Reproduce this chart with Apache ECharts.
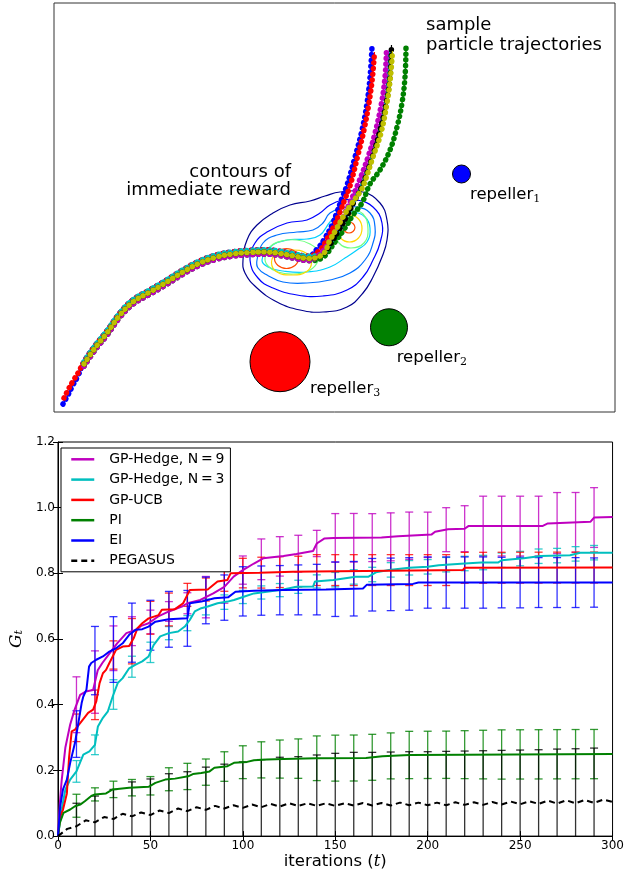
<!DOCTYPE html>
<html><head><meta charset="utf-8">
<script src="https://cdn.jsdelivr.net/npm/echarts@6/dist/echarts.min.js"></script>
<style>html,body{margin:0;padding:0;background:#fff}#c{width:627px;height:871px}</style>
</head><body><div id="c"></div>
<script>
// ================= TOP PANEL (field units, y grows downward) =================
const trunk = [[30,361],[41,345],[53,330],[66,312],[79,299],[96,289],[113,279],[129,269],[146,260],[163,254],[179,251],[196,249.5],[211,249],[226,250.5],[242,253.5],[254,255.5]];
const trunkUp = [[30,358.8],[41,342.8],[53,327.8],[66,309.8],[79,296.8],[96,286.8],[113,276.8],[129,266.8],[146,257.8],[163,251.8],[179,248.8],[196,247.3],[211,246.8],[226,248.3],[242,251.3],[254,253.3]];
const trunkDown = [[30,363.2],[41,347.2],[53,332.2],[66,314.2],[79,301.2],[96,291.2],[113,281.2],[129,271.2],[146,262.2],[163,256.2],[179,253.2],[196,251.7],[211,251.2],[226,252.7],[242,255.7],[254,257.7]];
const startBlue = [[9,401],[14,392],[19,382],[24,373]];
const startRed = [[10,395],[14,387],[19,378],[24,370]];
const tailBlue = [[264,245],[271,235],[278,222],[283,209],[288,195],[293,182],[301,154],[308,127],[313,100],[316,74],[318,44]];
const tailRed = [[266,247],[273,236],[280,223],[286,209],[291,196],[296,183],[304,152],[310,127],[315,100],[318.5,74],[320.5,49]];
const tailMagenta = [[267,250],[275,239],[283,226],[290,212],[297,197],[304,181],[314,154],[321,130],[327.5,100],[331,74],[332.5,47]];
const tailCyan = [[268,251],[276,240],[284,228],[292,213],[299,199],[307,183],[317,155],[324,131],[331,101],[334,74],[335,49]];
const tailBlack = [[268,252],[277,240],[285,227],[293,213],[300,199],[308,183],[318,155],[325,131],[332,101],[336,74],[337.5,42]];
const tailYellow = [[269,251],[276,237],[283,225],[289,214],[298,200],[306,189],[310,181],[319,154],[327,130],[333,100],[336.5,74],[338.5,48]];
const tailGreen = [[268,255],[281,239],[291,225],[299,212],[308,200],[316,181],[326,167],[336,147],[343,124],[348,100],[351,74],[352,44]];

const contourNavy = [[189,257],[193,237],[203,222],[219,210],[236,202],[256,198],[271,193],[286,189],[309,189],[326,200],[333,217],[333,237],[328,254],[319,274],[309,290],[293,304],[269,309],[246,307],[223,299],[203,285],[191,270]];
const contourBlue = [[196,257],[201,240],[213,229],[233,220],[253,217],[266,210],[276,202],[289,197],[303,197],[319,204],[328,220],[326,240],[319,257],[309,274],[293,287],[269,293],[243,292],[219,285],[204,275]];
const contourSky = [[203,257],[209,240],[223,232],[243,229],[259,227],[269,220],[276,210],[289,205],[303,204],[316,210],[321,224],[319,240],[311,257],[296,270],[276,277],[253,280],[229,279],[213,272],[204,265]];
const contourCyan = [[208,257],[216,244],[233,237],[253,236],[266,232],[276,219],[286,210],[299,209],[311,214],[316,225],[313,239],[303,247],[291,255],[276,264],[253,269],[229,268],[214,264]];
const contourGreenL = [[211,255],[216,244],[228,238],[243,237],[256,241],[264,249],[263,260],[254,268],[239,271],[224,269],[214,263]];
const contourGreenR = [[297,207],[309,211],[314,226],[310,240],[297,245],[285,240],[281,226],[285,212]];
const contourYellowL = [[217.5,259.5],[223,250],[237.5,247],[252,250],[257.5,259.5],[252,269],[237.5,272],[223,269]];
const contourYellowR = [[283,225.5],[286.5,216],[295.5,212],[304.5,216],[308,225.5],[304.5,235],[295.5,239],[286.5,235]];
const contourOrangeL = [[220.5,255.5],[224,248.5],[232.5,245.5],[241,248.5],[244.5,255.5],[241,262.5],[232.5,265.5],[224,262.5]];
const contourOrangeR = [[289,224.5],[291,220.5],[295,219],[299,220.5],[301,224.5],[299,228.5],[295,230],[291,228.5]];

const repellerNames = ['1','2','3'];
const repellerX = [407.5, 335, 226];
const repellerY = [171, 324.3, 358.7];
const repellerR = [9, 18.5, 30];

// ================= BOTTOM PANEL =================
const xTicks = [0,50,100,150,200,250,300];
const yTicks = [0,0.2,0.4,0.6,0.8,1.0,1.2];
const hedge9 = [[0,0],[1,0.1],[2,0.17],[4,0.27],[6.6,0.34],[9,0.385],[12,0.43],[15,0.44],[19,0.445],[21.5,0.505],[24,0.527],[28,0.557],[32,0.587],[37,0.618],[42,0.628],[45,0.64],[49,0.648],[54,0.668],[60,0.684],[67,0.699],[70,0.709],[77,0.719],[84,0.739],[90,0.759],[95,0.79],[100,0.81],[106,0.83],[111,0.846],[122,0.853],[129,0.859],[138,0.868],[140,0.891],[144,0.906],[149,0.908],[175,0.909],[184,0.913],[202,0.918],[204,0.927],[211,0.934],[220,0.936],[222,0.944],[262,0.944],[265,0.952],[288,0.957],[290,0.97],[300,0.972]];
const hedge3 = [[0,0],[2,0.081],[4,0.142],[6.6,0.172],[10,0.197],[13.7,0.248],[17,0.258],[20,0.278],[21.6,0.334],[24.3,0.36],[27,0.38],[29.6,0.425],[32.3,0.466],[35,0.481],[38.5,0.511],[42,0.522],[45.6,0.532],[49,0.547],[51.8,0.582],[55.3,0.608],[60,0.618],[65,0.623],[68.6,0.638],[71.3,0.658],[74,0.684],[77.5,0.694],[81,0.699],[86.3,0.709],[91.7,0.714],[95.2,0.719],[100.5,0.729],[106,0.739],[113,0.744],[120,0.749],[129,0.759],[138,0.76],[139,0.775],[149,0.78],[161,0.79],[168,0.79],[172,0.803],[179,0.81],[190,0.817],[200,0.82],[206,0.825],[220,0.83],[229,0.833],[238,0.833],[240,0.84],[252,0.846],[261,0.853],[277,0.855],[282.5,0.863],[300,0.863]];
const gpucb = [[0,0],[1.2,0.06],[2.7,0.08],[4.8,0.13],[6,0.24],[7.4,0.319],[9.2,0.324],[12,0.344],[16.3,0.375],[19,0.385],[20.7,0.41],[22.5,0.466],[24.3,0.496],[26,0.506],[27.8,0.527],[31.4,0.567],[35,0.577],[38.5,0.579],[41,0.603],[43,0.633],[45.6,0.648],[49,0.663],[54.4,0.673],[56.2,0.689],[63.3,0.691],[67.7,0.709],[71.3,0.749],[81,0.751],[86.3,0.775],[91.7,0.78],[93.4,0.8],[109,0.802],[127,0.805],[139,0.806],[140,0.81],[219,0.81],[220,0.817],[300,0.818]];
const pi = [[0,0],[1,0.04],[3,0.071],[6.6,0.081],[9.2,0.091],[12,0.096],[14.5,0.106],[18,0.122],[20,0.127],[26,0.13],[29.6,0.142],[38.5,0.147],[49,0.15],[52.7,0.162],[58,0.172],[63.3,0.175],[70.4,0.182],[73,0.189],[77.5,0.192],[82,0.197],[84.6,0.208],[91.7,0.213],[95.2,0.223],[102.3,0.226],[106,0.231],[113,0.233],[122,0.235],[139.5,0.237],[166.6,0.238],[175.5,0.243],[190,0.247],[220,0.248],[300,0.25]];
const ei = [[0,0],[1.2,0.091],[2.7,0.142],[4.8,0.172],[6.6,0.223],[9.2,0.284],[11,0.344],[12.8,0.405],[13.7,0.425],[15.4,0.446],[16.8,0.516],[18,0.527],[20.7,0.537],[24.3,0.547],[27.8,0.562],[31.4,0.572],[35,0.587],[38.5,0.613],[42,0.628],[45.6,0.63],[49,0.638],[52.7,0.653],[59.8,0.66],[70,0.663],[71.3,0.709],[77.5,0.714],[84.6,0.724],[92,0.727],[96,0.744],[106,0.747],[122,0.749],[145,0.751],[165,0.754],[167,0.765],[192,0.768],[195,0.772],[300,0.772]];
const pegasus = [[0,0],[5,0.022],[10,0.03],[15,0.048],[20,0.042],[25,0.058],[30,0.052],[35,0.068],[40,0.06],[45,0.072],[50,0.064],[55,0.078],[60,0.07],[65,0.084],[70,0.076],[75,0.088],[80,0.08],[85,0.092],[90,0.084],[95,0.094],[100,0.086],[105,0.096],[110,0.088],[115,0.098],[120,0.09],[125,0.1],[130,0.092],[135,0.1],[140,0.092],[145,0.1],[150,0.092],[155,0.1],[160,0.093],[165,0.101],[170,0.093],[175,0.101],[180,0.093],[185,0.102],[190,0.094],[195,0.102],[200,0.094],[205,0.102],[210,0.094],[215,0.103],[220,0.095],[225,0.103],[230,0.095],[235,0.104],[240,0.096],[245,0.105],[250,0.097],[255,0.106],[260,0.098],[265,0.108],[270,0.099],[275,0.109],[280,0.1],[285,0.11],[290,0.101],[295,0.111],[300,0.104]];
const errX = [10,20,30,40,50,60,70,80,90,100,110,120,130,140,150,160,170,180,190,200,210,220,230,240,250,260,270,280,290];
const hedge9Err = [.085,.095,.068,.044,.036,.03,.032,.063,.05,.043,.062,.06,.056,.04,.074,.074,.073,.073,.072,.069,.067,.07,.091,.091,.091,.091,.093,.091,.091];
const hedge3Err = [.033,.03,.045,.032,.031,.02,.023,.024,.022,.02,.02,.02,.02,.02,.022,.022,.022,.022,.022,.022,.022,.022,.022,.022,.022,.022,.022,.022,.022];
const gpucbErr = [.042,.045,.043,.069,.05,.05,.035,.035,.033,.045,.047,.047,.047,.047,.047,.047,.047,.047,.047,.047,.047,.047,.047,.047,.047,.047,.047,.047,.047];
const piErr = [.035,.02,.025,.025,.028,.035,.04,.04,.045,.05,.055,.058,.06,.068,.07,.07,.07,.07,.072,.072,.072,.073,.074,.075,.075,.075,.075,.075,.075];
const eiErr = [.071,.104,.1,.09,.076,.085,.085,.071,.069,.075,.075,.075,.076,.077,.083,.083,.08,.08,.08,.078,.078,.078,.078,.077,.077,.076,.076,.076,.075];
const pegasusErr = [.07,.08,.09,.105,.11,.12,.12,.13,.135,.14,.145,.15,.15,.155,.16,.162,.162,.163,.163,.163,.164,.164,.165,.165,.165,.165,.166,.166,.167];

const FONT = 'DejaVu Sans';
const SERIF = 'DejaVu Serif';

// ---------- build top panel series ----------
const trajectories = [
  {color:'#0000ff', pts: startBlue.concat(trunkUp, tailBlue)},
  {color:'#008000', pts: trunkDown.concat(tailGreen)},
  {color:'#ff0000', pts: startRed.concat(trunkUp, tailRed)},
  {color:'#00bfbf', pts: trunkUp.concat(tailCyan)},
  {color:'#bf00bf', pts: trunkDown.concat(tailMagenta)},
  {color:'#000000', pts: trunk.concat(tailBlack)},
  {color:'#bfbf00', pts: trunk.concat(tailYellow)}
];
const contours = [
  {c:'#00008f', pts: contourNavy},
  {c:'#0000ff', pts: contourBlue},
  {c:'#0070ff', pts: contourSky},
  {c:'#00d0ff', pts: contourCyan},
  {c:'#70ff80', pts: contourGreenL},
  {c:'#70ff80', pts: contourGreenR},
  {c:'#ffd800', pts: contourYellowL},
  {c:'#ffd800', pts: contourYellowR},
  {c:'#ff4a00', pts: contourOrangeL},
  {c:'#ff4a00', pts: contourOrangeR}
];
const series = [];
series.push({
  type:'custom', xAxisIndex:0, yAxisIndex:0, silent:true, z:1,
  data: contours.map((c,i)=>[i]),
  renderItem: function(params, api){
    const c = contours[api.value(0)];
    return {type:'polygon', shape:{points: c.pts.map(p=>api.coord(p)), smooth:0.45},
      style:{fill:'none', stroke:c.c, lineWidth:1.2}};
  }
});
trajectories.forEach((t,i)=>{
  series.push({type:'line', xAxisIndex:0, yAxisIndex:0, data:t.pts, smooth:0.4, symbol:'none', silent:true, z:3+i*0.1,
    lineStyle:{color:t.color, width:1.2}});
  series.push({type:'line', xAxisIndex:0, yAxisIndex:0, data:t.pts, smooth:0.4, symbol:'none', silent:true, z:3+i*0.1+0.05,
    lineStyle:{color:t.color, width:5.5, type:[0.1,5.6], cap:'round'}});
});
const repColors = ['#0000ff','#008000','#ff0000'];
series.push({
  type:'custom', xAxisIndex:0, yAxisIndex:0, silent:true, z:5,
  data: repellerX.map((x,i)=>[x, repellerY[i], repellerR[i], i]),
  renderItem: function(params, api){
    const c = api.coord([api.value(0), api.value(1)]);
    const r = api.size([api.value(2), api.value(2)])[0];
    return {type:'circle', shape:{cx:c[0], cy:c[1], r:r}, style:{fill:repColors[api.value(3)], stroke:'#000', lineWidth:1}};
  }
});

// ---------- bottom panel ----------
function lineAt(data, x){
  for (let i=1;i<data.length;i++){
    if (data[i][0] >= x){ const a=data[i-1], b=data[i]; const t=(x-a[0])/((b[0]-a[0])||1); return a[1]+t*(b[1]-a[1]); }
  }
  return data[data.length-1][1];
}
const perf = [
  {name:'GP-Hedge, N\u2009=\u20099', color:'#bf00bf', data:hedge9, err:hedge9Err},
  {name:'GP-Hedge, N\u2009=\u20093', color:'#00bfbf', data:hedge3, err:hedge3Err},
  {name:'GP-UCB', color:'#ff0000', data:gpucb, err:gpucbErr},
  {name:'PI', color:'#008000', data:pi, err:piErr},
  {name:'EI', color:'#0000ff', data:ei, err:eiErr},
  {name:'PEGASUS', color:'#000000', data:pegasus, err:pegasusErr, dashed:true}
];
perf.forEach((s,k)=>{
  const col = s.color;
  series.push({
    type:'custom', xAxisIndex:1, yAxisIndex:1, silent:true, clip:true, z:2,
    data: errX.map((x,i)=>{ const c=lineAt(s.data,x); return [x, c-s.err[i], c+s.err[i]]; }),
    encode:{x:0, y:[1,2]},
    renderItem: function(params, api){
      const x=api.value(0);
      const p1=api.coord([x, api.value(2)]), p0=api.coord([x, api.value(1)]);
      const w=4;
      const st={stroke:col, lineWidth:1.3, opacity:0.8};
      return {type:'group', children:[
        {type:'line', shape:{x1:p1[0],y1:p1[1],x2:p0[0],y2:p0[1]}, style:st},
        {type:'line', shape:{x1:p1[0]-w,y1:p1[1],x2:p1[0]+w,y2:p1[1]}, style:st},
        {type:'line', shape:{x1:p0[0]-w,y1:p0[1],x2:p0[0]+w,y2:p0[1]}, style:st}
      ]};
    }
  });
});
perf.forEach((s,k)=>{
  series.push({
    name:s.name, type:'line', xAxisIndex:1, yAxisIndex:1, data:s.data, symbol:'none', showSymbol:false, silent:true, z:3,
    lineStyle:{color:s.color, width:2, type: s.dashed ? [6,4] : 'solid'}, itemStyle:{color:s.color}
  });
});

const axisTxt = {color:'#000', fontFamily:FONT, fontSize:12};
const option = {
  animation:false,
  backgroundColor:'#fff',
  grid:[
    {left:54, top:3, width:561, height:409, show:true, borderColor:'#333', borderWidth:1, backgroundColor:'#fff'},
    {left:54, top:442, width:562, height:395, show:true, borderColor:'#000', borderWidth:1}
  ],
  xAxis:[
    {gridIndex:0, type:'value', min:0, max:561, show:false},
    {gridIndex:1, type:'value', min:xTicks[0], max:xTicks[xTicks.length-1], interval:50, position:'bottom',
      axisLine:{show:true, lineStyle:{color:'#000'}}, axisTick:{inside:true, length:5, lineStyle:{color:'#000'}},
      splitLine:{show:false}, axisLabel:Object.assign({margin:4}, axisTxt),
      name:'{a|iterations (}{t|t}{a|)}', nameLocation:'middle', nameGap:16,
      nameTextStyle:{rich:{a:{fontFamily:FONT, fontSize:16.5, color:'#000'}, t:{fontFamily:SERIF, fontStyle:'italic', fontSize:16.5, color:'#000'}}}},
    {gridIndex:1, type:'value', min:xTicks[0], max:xTicks[xTicks.length-1], interval:50, position:'top',
      axisLine:{show:false}, axisTick:{inside:true, length:5, lineStyle:{color:'#000'}}, axisLabel:{show:false}, splitLine:{show:false}}
  ],
  yAxis:[
    {gridIndex:0, type:'value', min:0, max:409, inverse:true, show:false},
    {gridIndex:1, type:'value', min:yTicks[0], max:yTicks[yTicks.length-1], interval:0.2, position:'left',
      axisLine:{show:true, lineStyle:{color:'#000'}}, axisTick:{inside:true, length:5, lineStyle:{color:'#000'}},
      splitLine:{show:false}, axisLabel:Object.assign({margin:3, formatter:v=>v.toFixed(1)}, axisTxt),
      name:'{g|G}{s|t}', nameLocation:'middle', nameGap:30, nameRotate:90,
      nameTextStyle:{rich:{g:{fontFamily:SERIF, fontStyle:'italic', fontSize:17, color:'#000'}, s:{fontFamily:SERIF, fontStyle:'italic', fontSize:11, color:'#000', verticalAlign:'bottom', lineHeight:8}}}},
    {gridIndex:1, type:'value', min:yTicks[0], max:yTicks[yTicks.length-1], interval:0.2, position:'right',
      axisLine:{show:false}, axisTick:{inside:true, length:5, lineStyle:{color:'#000'}}, axisLabel:{show:false}, splitLine:{show:false}}
  ],
  legend:{
    left:61, top:448, orient:'vertical', selectedMode:false,
    data: perf.map(s=>s.name),
    itemWidth:23, itemHeight:14, itemGap:6.3,
    itemStyle:{opacity:0},
    lineStyle:{width:2.5},
    padding:[4.3,6,4,9],
    backgroundColor:'#fff', borderColor:'#000', borderWidth:1, borderRadius:0,
    textStyle:{fontFamily:FONT, fontSize:14, color:'#000', padding:[0,0,0,10]}
  },
  graphic:[
    {type:'text', x:426, y:15.5, z:100, style:{text:'sample\nparticle trajectories', fontFamily:FONT, fontSize:18, lineHeight:20, fill:'#000', align:'left', verticalAlign:'top'}},
    {type:'text', x:291, y:162.6, z:100, style:{text:'contours of\nimmediate reward', fontFamily:FONT, fontSize:18, lineHeight:18.5, fill:'#000', align:'right', verticalAlign:'top'}},
    {type:'text', x:470, y:184.3, z:100, style:{text:'repeller{s|'+repellerNames[0]+'}', fontFamily:FONT, fontSize:16.5, lineHeight:20, fill:'#000', align:'left', verticalAlign:'top', rich:{s:{fontFamily:SERIF, fontSize:11, fill:'#000', verticalAlign:'bottom', lineHeight:8}}}},
    {type:'text', x:396.7, y:347.6, z:100, style:{text:'repeller{s|'+repellerNames[1]+'}', fontFamily:FONT, fontSize:16.5, lineHeight:20, fill:'#000', align:'left', verticalAlign:'top', rich:{s:{fontFamily:SERIF, fontSize:11, fill:'#000', verticalAlign:'bottom', lineHeight:8}}}},
    {type:'text', x:310, y:378.3, z:100, style:{text:'repeller{s|'+repellerNames[2]+'}', fontFamily:FONT, fontSize:16.5, lineHeight:20, fill:'#000', align:'left', verticalAlign:'top', rich:{s:{fontFamily:SERIF, fontSize:11, fill:'#000', verticalAlign:'bottom', lineHeight:8}}}}
  ],
  series: series
};
const chart = echarts.init(document.getElementById('c'), null, {renderer:'canvas'});
chart.setOption(option);
</script>
</body></html>
